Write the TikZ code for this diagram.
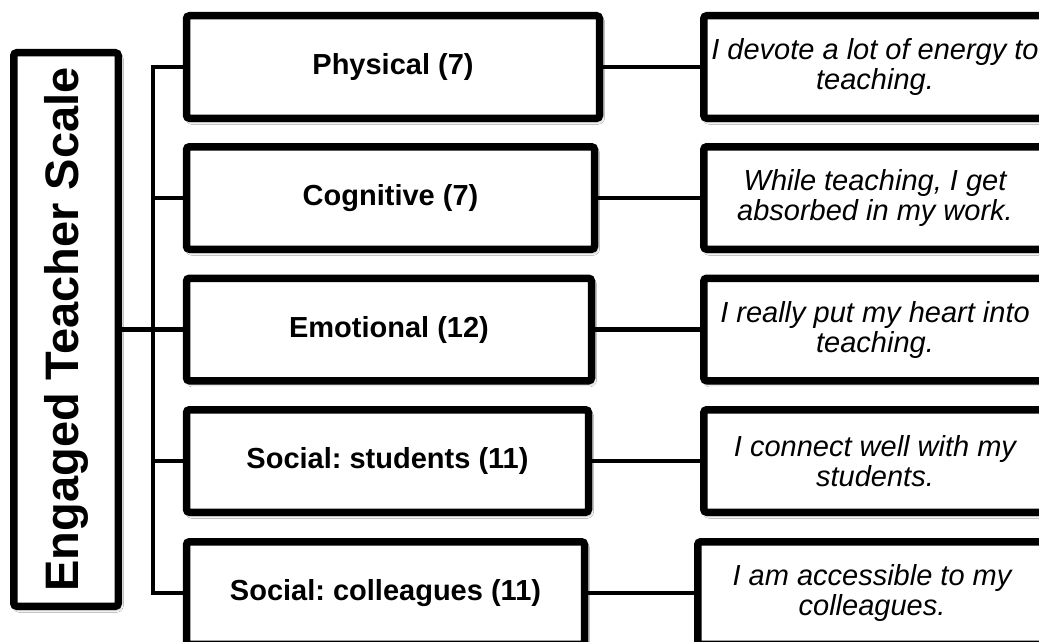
\documentclass[tikz,border=0pt]{standalone}
\usepackage{fontspec}
\setmainfont{Liberation Sans}
\frenchspacing
\usepackage{tikz}
\usetikzlibrary{positioning, shadows.blur}
\tikzstyle{boxshadow} = [blur shadow={shadow xshift=2pt, shadow yshift=-3pt, shadow blur radius=3pt, shadow opacity=45}]
\tikzstyle{heading} = [rectangle, rounded corners=3pt, rotate=90, minimum width=553.5pt, minimum height=104.5pt, text centered, draw=black, line width=7.5pt, fill=white, boxshadow, font=\fontsize{47}{50}\selectfont\bfseries]
\tikzstyle{dimension} = [rectangle, rounded corners=3pt, minimum height=102.5pt, text centered, draw=black, line width=7.5pt, fill=white, boxshadow, font=\fontsize{29}{32}\selectfont\bfseries]
\tikzstyle{sample} = [rectangle, rounded corners=3pt, minimum height=102.5pt, align=center, draw=black, line width=7.5pt, fill=white, boxshadow, font=\fontsize{29}{30}\selectfont\itshape]
\tikzstyle{link} = [line width=4.5pt]

\begin{document}
\begin{tikzpicture}[x=1pt, y=-1pt]
	\clip (0,0) rectangle (1039,642);
	\fill[white] (0,0) rectangle (1039,642);
	
	\node (ets) [heading] at (66,329.5) {Engaged Teacher Scale};
	
	\node (physical) [dimension, minimum width=413pt] at (393,67) {Physical (7)};
	\node (cognitive) [dimension, minimum width=408pt] at (390.5,198) {Cognitive (7)};
	\node (emotional) [dimension, minimum width=405pt] at (389,329.5) {Emotional (12)};
	\node (students) [dimension, minimum width=402pt] at (387.5,461) {Social: students (11)};
	\node (colleagues) [dimension, minimum width=398pt] at (385.5,593) {Social: colleagues (11)};
	
	\node (energy) [sample, minimum width=342.5pt] at (875,67) {I devote a lot of energy to\\teaching.};
	\node (absorbed) [sample, minimum width=342.5pt] at (875,198) {While teaching, I get\\absorbed in my work.};
	\node (heart) [sample, minimum width=342.5pt] at (875,329.5) {I really put my heart into\\teaching.};
	\node (connect) [sample, minimum width=342.5pt] at (875,461) {I connect well with my\\students.};
	\node (accessible) [sample, minimum width=348.5pt] at (872,593) {I am accessible to my\\colleagues.};
	
	\coordinate (trunk) at (153,0);
	
	\draw [link] (ets.south) -- (emotional.west);
	\draw [link] (physical.west) -| (trunk |- colleagues.west) -- (colleagues.west);
	\draw [link] (cognitive.west) -- (trunk |- cognitive.west);
	\draw [link] (students.west) -- (trunk |- students.west);
	
	\draw [link] (physical) -- (energy);
	\draw [link] (cognitive) -- (absorbed);
	\draw [link] (emotional) -- (heart);
	\draw [link] (students) -- (connect);
	\draw [link] (colleagues) -- (accessible);
	
\end{tikzpicture}
\end{document}
